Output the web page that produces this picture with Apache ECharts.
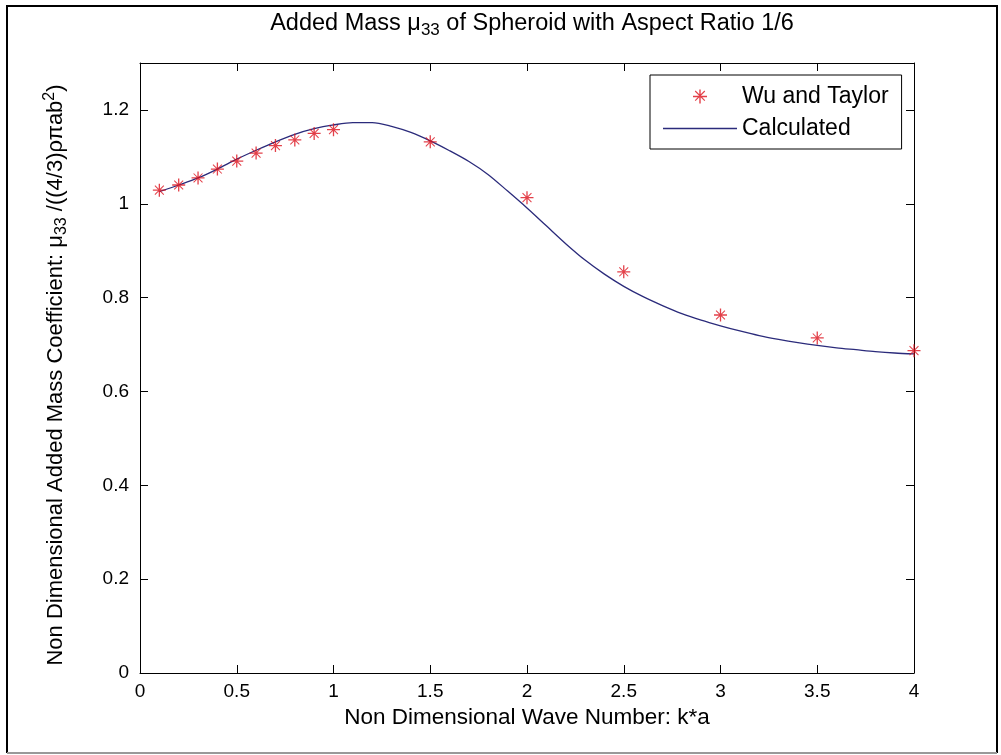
<!DOCTYPE html>
<html>
<head>
<meta charset="utf-8">
<script src="https://cdn.jsdelivr.net/npm/echarts@6/dist/echarts.min.js"></script>
<style>html,body{margin:0;padding:0;background:#fff}#c{width:1001px;height:755px}</style>
</head>
<body>
<div id="c"></div>
<script>
// Wu and Taylor data points
const wuX = [0.1, 0.2, 0.3, 0.4, 0.5, 0.6, 0.7, 0.8, 0.9, 1.0, 1.5, 2.0, 2.5, 3.0, 3.5, 4.0];
const wuY = [1.029, 1.040, 1.055, 1.074, 1.091, 1.108, 1.124, 1.136, 1.150, 1.158, 1.132, 1.013, 0.855, 0.763, 0.714, 0.687];
// Calculated curve
const calcX = [0.1,0.2,0.3,0.4,0.5,0.6,0.7,0.8,0.9,1.0,1.1,1.2,1.3,1.4,1.5,1.6,1.7,1.8,1.9,2.0,2.1,2.2,2.3,2.4,2.5,2.6,2.7,2.8,2.9,3.0,3.1,3.2,3.3,3.4,3.5,3.6,3.7,3.8,3.9,4.0];
const calcY = [1.026,1.040,1.055,1.074,1.095,1.114,1.132,1.148,1.160,1.168,1.173,1.173,1.165,1.152,1.134,1.113,1.090,1.062,1.027,0.991,0.953,0.915,0.880,0.850,0.824,0.802,0.783,0.766,0.752,0.740,0.729,0.719,0.711,0.704,0.698,0.693,0.689,0.685,0.682,0.680];
const xTicks = [0, 0.5, 1, 1.5, 2, 2.5, 3, 3.5, 4];
const yTicks = [0, 0.2, 0.4, 0.6, 0.8, 1, 1.2];

const FONT = "'Liberation Sans',Arial,sans-serif";
const star = 'path://M9 0H11V20H9Z M0 9H20V11H0Z M2.6 3.7L3.7 2.6L17.4 16.3L16.3 17.4Z M16.3 2.6L17.4 3.7L3.7 17.4L2.6 16.3Z';
const starWide = 'path://M0 7L0.01 7L0.01 7.01Z M74 7L73.99 7L73.99 7.01Z M36.3 0H37.7V14H36.3Z M30 6.3H44V7.7H30Z M31.8 1.9L32.6 1.1L42.2 10.7L41.4 11.5Z M41.4 1.1L42.2 1.9L32.6 11.5L31.8 10.7Z';
const lineIcon = 'path://M0 0L0.01 0L0.01 0.01Z M0 14L0.01 14L0.01 13.99Z M0 6.35H74V7.65H0Z';

const chart = echarts.init(document.getElementById('c'), null, {renderer: 'canvas'});
const axisCommon = {
  type: 'value', min: 0, max: 4, interval: 0.5,
  axisLine: {show: true, onZero: false, lineStyle: {color: '#000', width: 1}},
  axisTick: {show: true, inside: true, length: 8, lineStyle: {color: '#000'}},
  splitLine: {show: false}
};
chart.setOption({
  animation: false,
  backgroundColor: '#fff',
  textStyle: {fontFamily: FONT},
  title: {
    text: 'Added Mass μ{sub|33} of Spheroid with Aspect Ratio 1/6',
    left: 527, textAlign: 'center', top: 4,
    textStyle: {
      fontFamily: FONT, fontSize: 23.5, fontWeight: 'normal', color: '#000',
      rich: {sub: {fontFamily: FONT, fontSize: 17, padding: [13, 0, 0, 0], color: '#000'}}
    }
  },
  grid: {left: 140, right: 87, top: 63, bottom: 82, containLabel: false},
  legend: {
    left: 650, top: 75, orient: 'vertical',
    padding: [10, 13, 9, 13],
    itemWidth: 74, itemHeight: 14, itemGap: 9, itemTextGap: 5,
    backgroundColor: '#fff', borderColor: '#000', borderWidth: 1,
    textStyle: {fontFamily: FONT, fontSize: 23, color: '#000', lineHeight: 23},
    data: [{name: 'Wu and Taylor', icon: starWide}, {name: 'Calculated', icon: lineIcon}]
  },
  xAxis: [
    Object.assign({}, axisCommon, {
      position: 'bottom',
      name: 'Non Dimensional Wave Number: k*a', nameLocation: 'middle', nameGap: 32,
      nameTextStyle: {fontFamily: FONT, fontSize: 22.5, color: '#000'},
      axisLabel: {show: true, margin: 9, fontFamily: FONT, fontSize: 19, color: '#000',
        formatter: v => xTicks.indexOf(v) >= 0 ? String(v) : ''}
    }),
    Object.assign({}, axisCommon, {position: 'top', axisLabel: {show: false}})
  ],
  yAxis: [
    Object.assign({}, axisCommon, {
      min: 0, max: 1.3, interval: 0.2, position: 'left',
      name: 'Non Dimensional Added Mass Coefficient: μ{sub|33} /((4/3)ρπab{sup|2})',
      nameLocation: 'middle', nameGap: 70, nameRotate: 90,
      nameTextStyle: {fontFamily: FONT, fontSize: 22, color: '#000', padding: [0, 14, 0, 0],
        rich: {sub: {fontFamily: FONT, fontSize: 16, padding: [12, 0, 0, 0], color: '#000'},
               sup: {fontFamily: FONT, fontSize: 16, padding: [0, 0, 12, 0], color: '#000'}}},
      axisLabel: {show: true, margin: 11, fontFamily: FONT, fontSize: 19, color: '#000',
        showMaxLabel: false,
        formatter: v => yTicks.some(t => Math.abs(t - v) < 1e-9) ? String(Math.round(v * 10) / 10) : ''}
    }),
    Object.assign({}, axisCommon, {min: 0, max: 1.3, interval: 0.2, position: 'right', axisLabel: {show: false}})
  ],
  series: [
    {
      name: 'Wu and Taylor', type: 'scatter', xAxisIndex: 0, yAxisIndex: 0,
      symbol: star, symbolSize: 13, clip: false, z: 5,
      itemStyle: {color: '#dc101c'},
      data: wuX.map((x, i) => [x, wuY[i]])
    },
    {
      name: 'Calculated', type: 'line', xAxisIndex: 0, yAxisIndex: 0,
      symbol: 'none', smooth: 0.3, z: 3,
      lineStyle: {color: '#2b2b7b', width: 1.3},
      itemStyle: {color: '#2b2b7b'},
      data: calcX.map((x, i) => [x, calcY[i]])
    }
  ],
  graphic: [
    {type: 'line', shape: {x1: 7, y1: 6, x2: 997, y2: 6}, style: {stroke: '#000', lineWidth: 2}},
    {type: 'line', shape: {x1: 7, y1: 5, x2: 7, y2: 753}, style: {stroke: '#000', lineWidth: 2}},
    {type: 'line', shape: {x1: 997, y1: 5, x2: 997, y2: 753}, style: {stroke: '#000', lineWidth: 2}},
    {type: 'line', shape: {x1: 7, y1: 753, x2: 997, y2: 753}, style: {stroke: '#999', lineWidth: 2}}
  ]
});
</script>
</body>
</html>
